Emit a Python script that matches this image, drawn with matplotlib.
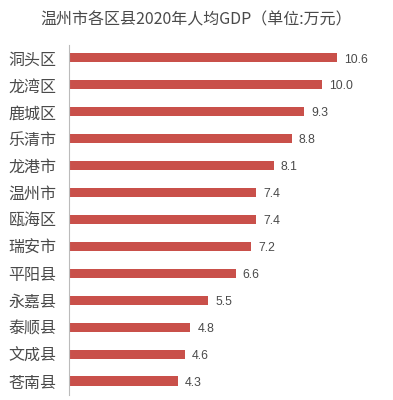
import matplotlib.pyplot as plt

plt.rcParams['font.family'] = ['Noto Sans CJK SC', 'DejaVu Sans']

# 区县与人均GDP（万元）
districts = ['洞头区', '龙湾区', '鹿城区', '乐清市', '龙港市', '温州市', '瓯海区',
             '瑞安市', '平阳县', '永嘉县', '泰顺县', '文成县', '苍南县']
gdp = [10.6, 10.0, 9.3, 8.8, 8.1, 7.4, 7.4, 7.2, 6.6, 5.5, 4.8, 4.6, 4.3]

fig = plt.figure(figsize=(3.93, 4.0), dpi=100)
ax = fig.add_axes([69 / 393, 5 / 400, 311 / 393, 350 / 400])

pos = list(range(len(districts)))
ax.barh(pos, gdp, height=0.34, color='#c9504a')

for p, v in zip(pos, gdp):
    ax.text(v + 0.27, p + 0.06, f'{v:.1f}', va='center', ha='left',
            fontsize=8.8, color='#4a4a4a', family='Liberation Sans')

ax.set_yticks(pos)
ax.set_yticklabels(districts, fontsize=11.5, color='#4a4a4a', fontweight='light')
ax.tick_params(axis='y', length=0, pad=9)
ax.set_xticks([])
ax.set_xlim(0, 12.29)
ax.set_ylim(12.52, -0.48)

for s in ['top', 'right', 'bottom']:
    ax.spines[s].set_visible(False)
ax.spines['left'].set_color('#bbbbbb')
ax.spines['left'].set_linewidth(0.8)

fig.text(0.5, 1 - 20 / 400, '温州市各区县2020年人均GDP（单位:万元）', ha='center',
         va='center', fontsize=11.5, color='#4a4a4a', fontweight='light')

fig.savefig('out.png', dpi=100, facecolor='white')
